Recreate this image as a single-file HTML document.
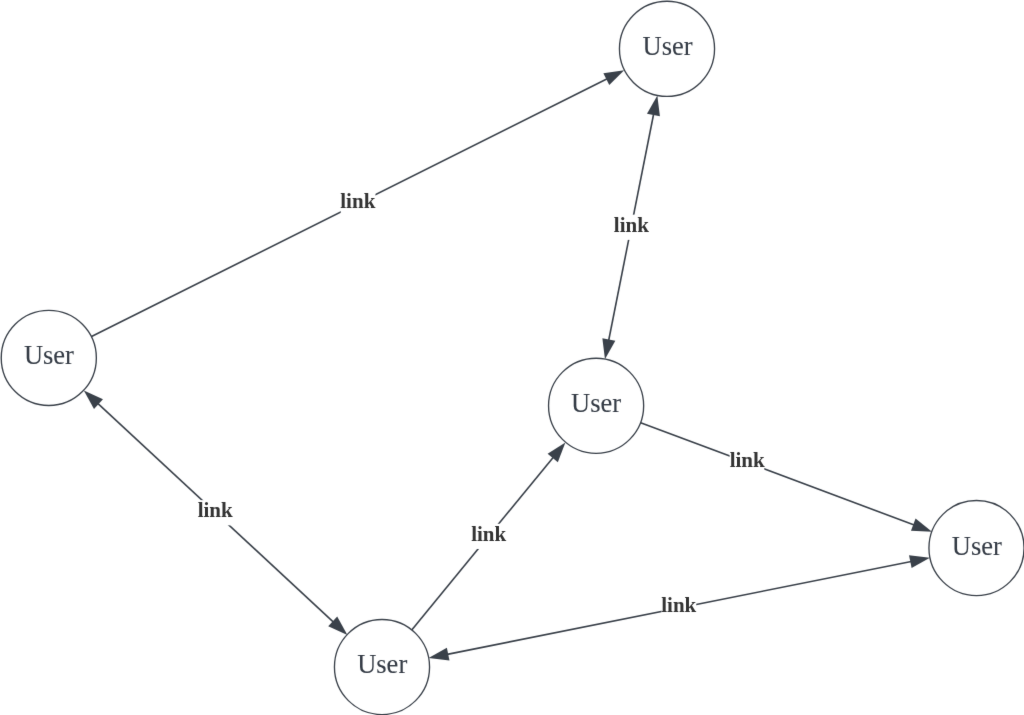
<!DOCTYPE html>
<html lang="en">
<head>
<meta charset="utf-8">
<title>User link graph</title>
<style>
html,body{margin:0;padding:0;background:#fff;}
body{width:1024px;height:715px;overflow:hidden;}
svg{display:block;will-change:transform;}
.node{fill:#fff;stroke:#3a414a;stroke-width:1.35;}
.edge{stroke:#3a414a;stroke-width:1.6;fill:none;}
.head{fill:#3a414a;stroke:none;}
.user{font-family:"Liberation Serif","Times New Roman",serif;font-size:26.5px;fill:#353c46;stroke:#3a414a;stroke-width:0.08;text-anchor:middle;}
.link{font-family:"Liberation Serif","Times New Roman",serif;font-size:21.0px;font-weight:bold;fill:#333;text-anchor:middle;}
.lbg{fill:#fff;}
</style>
</head>
<body>
<svg width="1024" height="715" viewBox="0 0 1024 715">
<defs>
<filter id="soft" x="0" y="0" width="1024" height="715" filterUnits="userSpaceOnUse" color-interpolation-filters="sRGB">
<feConvolveMatrix order="3" kernelMatrix="0.0072 0.0847 0.0072 0.0847 1.0000 0.0847 0.0072 0.0847 0.0072" divisor="1.3673" edgeMode="duplicate" preserveAlpha="true"/>
</filter>
</defs>
<g filter="url(#soft)">
<rect width="1024" height="715" fill="#fff"/>
<line class="edge" x1="91.03" y1="336.83" x2="607.22" y2="78.74"/>
<polygon class="head" points="624.21,70.24 609.28,85.09 603.37,73.28"/>
<line class="edge" x1="653.64" y1="114.03" x2="608.66" y2="340.52"/>
<polygon class="head" points="657.35,95.39 659.92,116.29 646.98,113.72"/>
<polygon class="head" points="604.95,359.16 602.38,338.26 615.32,340.83"/>
<line class="edge" x1="97.75" y1="403.43" x2="333.45" y2="622.07"/>
<polygon class="head" points="83.82,390.50 102.97,399.27 94.00,408.95"/>
<polygon class="head" points="347.38,635.00 328.23,626.23 337.20,616.55"/>
<line class="edge" x1="411.54" y1="630.22" x2="553.35" y2="457.18"/>
<polygon class="head" points="565.39,442.49 557.82,462.14 547.61,453.77"/>
<line class="edge" x1="640.64" y1="422.70" x2="914.21" y2="525.01"/>
<polygon class="head" points="932.01,531.66 910.96,530.84 915.59,518.48"/>
<line class="edge" x1="911.29" y1="561.45" x2="447.21" y2="654.35"/>
<polygon class="head" points="929.92,557.72 911.61,568.12 909.02,555.18"/>
<polygon class="head" points="428.58,658.08 446.89,647.68 449.48,660.62"/>
<rect class="lbg" x="340.75" y="190.75" width="34.7" height="25.2"/>
<text class="link" x="357.80" y="207.85">link</text>
<rect class="lbg" x="613.80" y="214.68" width="34.7" height="25.2"/>
<text class="link" x="631.35" y="231.93">link</text>
<rect class="lbg" x="198.25" y="500.15" width="34.7" height="25.2"/>
<text class="link" x="215.20" y="517.40">link</text>
<rect class="lbg" x="471.10" y="523.77" width="34.7" height="25.2"/>
<text class="link" x="488.65" y="541.02">link</text>
<rect class="lbg" x="729.60" y="449.70" width="34.7" height="25.2"/>
<text class="link" x="747.15" y="466.95">link</text>
<rect class="lbg" x="661.55" y="595.30" width="34.7" height="25.2"/>
<text class="link" x="678.75" y="611.85">link</text>
<circle class="node" cx="667.00" cy="48.80" r="47.55"/>
<text class="user" x="667.60" y="55.00">User</text>
<circle class="node" cx="48.80" cy="357.90" r="47.55"/>
<text class="user" x="48.90" y="364.20">User</text>
<circle class="node" cx="596.10" cy="405.75" r="47.55"/>
<text class="user" x="596.05" y="411.60">User</text>
<circle class="node" cx="976.50" cy="548.00" r="47.55"/>
<text class="user" x="976.85" y="554.50">User</text>
<circle class="node" cx="382.00" cy="667.00" r="47.55"/>
<text class="user" x="382.20" y="673.40">User</text>
</g>
</svg>
</body>
</html>
